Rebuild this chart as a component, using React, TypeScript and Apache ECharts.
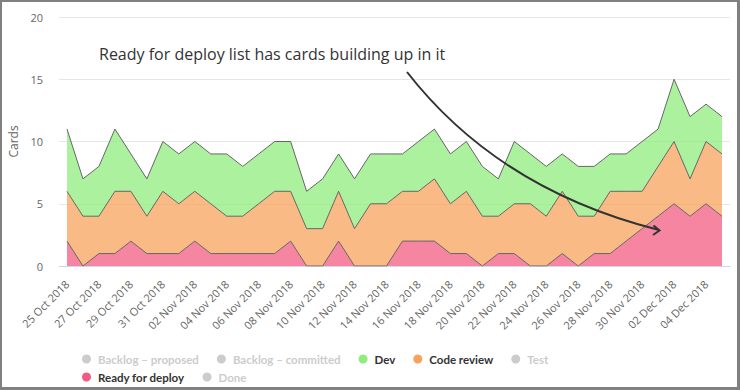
import React, { useEffect, useRef } from "react";
import * as echarts from "echarts";

const dates = [
  "25 Oct 2018", "26 Oct 2018", "27 Oct 2018", "28 Oct 2018", "29 Oct 2018", "30 Oct 2018", "31 Oct 2018",
  "01 Nov 2018", "02 Nov 2018", "03 Nov 2018", "04 Nov 2018", "05 Nov 2018", "06 Nov 2018", "07 Nov 2018",
  "08 Nov 2018", "09 Nov 2018", "10 Nov 2018", "11 Nov 2018", "12 Nov 2018", "13 Nov 2018", "14 Nov 2018",
  "15 Nov 2018", "16 Nov 2018", "17 Nov 2018", "18 Nov 2018", "19 Nov 2018", "20 Nov 2018", "21 Nov 2018",
  "22 Nov 2018", "23 Nov 2018", "24 Nov 2018", "25 Nov 2018", "26 Nov 2018", "27 Nov 2018", "28 Nov 2018",
  "29 Nov 2018", "30 Nov 2018", "01 Dec 2018", "02 Dec 2018", "03 Dec 2018", "04 Dec 2018", "05 Dec 2018",
];

const readyForDeploy = [2, 0, 1, 1, 2, 1, 1, 1, 2, 1, 1, 1, 1, 1, 2, 0, 0, 2, 0, 0, 0, 2, 2, 2, 1, 1, 0, 1, 1, 0, 0, 1, 0, 1, 1, 2, 3, 4, 5, 4, 5, 4];
const codeReview = [4, 4, 3, 5, 4, 3, 5, 4, 4, 4, 3, 3, 4, 5, 4, 3, 3, 4, 3, 5, 5, 4, 4, 5, 4, 5, 4, 3, 4, 5, 4, 5, 4, 3, 5, 4, 3, 4, 5, 3, 5, 5];
const dev = [5, 3, 4, 5, 3, 3, 4, 4, 4, 4, 5, 4, 4, 4, 4, 3, 4, 3, 4, 4, 4, 3, 4, 4, 4, 4, 4, 3, 5, 4, 4, 3, 4, 4, 3, 3, 4, 3, 5, 5, 3, 3];
const emptySeries: number[] = [];

const legendRow1 = ["Backlog – proposed", "Backlog – committed", "Dev", "Code review", "Test"];
const legendRow2 = ["Ready for deploy", "Done"];

const annotation = "Ready for deploy list has cards building up in it";

const selected = {
  "Backlog – proposed": false,
  "Backlog – committed": false,
  Test: false,
  Done: false,
};

const FONT = '"Open Sans", sans-serif';

function areaSeries(name: string, data: number[], color: string) {
  return {
    name,
    type: "line",
    stack: "cards",
    data,
    color,
    showSymbol: false,
    symbol: "circle",
    lineStyle: { color: "#666666", width: 1 },
    areaStyle: { color, opacity: 0.75 },
    emphasis: { disabled: true },
  };
}

export default function App() {
  const ref = useRef<HTMLDivElement>(null);

  useEffect(() => {
    document.body.style.margin = "0";
    const chart = echarts.init(ref.current!, null, { renderer: "svg" });
    const legendCommon = {
      orient: "horizontal",
      icon: "circle",
      itemWidth: 13,
      itemHeight: 9,
      itemGap: 18,
      left: 77,
      selected,
      inactiveColor: "#cccccc",
      textStyle: { color: "#333333", fontSize: 11.5, fontWeight: "bold", fontFamily: "Lato, sans-serif" },
    };
    chart.setOption({
      animation: false,
      backgroundColor: "#ffffff",
      textStyle: { fontFamily: FONT },
      grid: { left: 59, right: 10, top: 17, bottom: 124, containLabel: false, outerBoundsMode: "none" },
      legend: [
        { ...legendCommon, top: 348, data: legendRow1 },
        { ...legendCommon, top: 366, data: legendRow2 },
      ],
      xAxis: {
        type: "category",
        data: dates,
        boundaryGap: true,
        axisLine: { lineStyle: { color: "#ccd6eb" } },
        axisTick: { alignWithLabel: true, interval: 1, length: 10, lineStyle: { color: "#ccd6eb" } },
        axisLabel: { interval: 1, rotate: 45, margin: 16, color: "#666666", fontSize: 11, fontFamily: FONT },
        splitLine: { show: false },
      },
      yAxis: {
        type: "value",
        min: 0,
        max: 20,
        interval: 5,
        name: "Cards",
        nameLocation: "middle",
        nameGap: 39,
        nameTextStyle: { color: "#666666", fontSize: 12, fontFamily: FONT },
        axisLine: { show: false },
        axisTick: { show: false },
        axisLabel: { color: "#666666", fontSize: 11, margin: 16, fontFamily: FONT },
        splitLine: { lineStyle: { color: "#e6e6e6" } },
      },
      series: [
        areaSeries("Done", emptySeries, "#8085e9"),
        areaSeries("Ready for deploy", readyForDeploy, "#f15c80"),
        areaSeries("Test", emptySeries, "#8085e9"),
        areaSeries("Code review", codeReview, "#f7a35c"),
        areaSeries("Dev", dev, "#90ed7d"),
        areaSeries("Backlog – committed", emptySeries, "#434348"),
        areaSeries("Backlog – proposed", emptySeries, "#7cb5ec"),
      ],
      graphic: [
        {
          type: "text",
          left: 99,
          top: 46,
          style: { text: annotation, font: '16px "Open Sans", sans-serif', fill: "#333333" },
          z: 100,
        },
        {
          type: "bezierCurve",
          shape: { x1: 407, y1: 72, x2: 659, y2: 230, cpx1: 460, cpy1: 140, cpx2: 540, cpy2: 200 },
          style: { stroke: "#333333", lineWidth: 2, fill: null },
          z: 100,
        },
        {
          type: "polyline",
          shape: { points: [[653.5, 225.5], [659.5, 230.5], [653, 235]] },
          style: { stroke: "#333333", lineWidth: 2, fill: null },
          z: 100,
        },
      ],
    });
    return () => chart.dispose();
  }, []);

  return (
    <div style={{ position: "fixed", left: 0, top: 0, width: 740, height: 390 }}>
      <div ref={ref} style={{ position: "absolute", left: 0, top: 0, width: 740, height: 390 }} />
      <div
        style={{
          position: "absolute",
          left: 0,
          top: 0,
          width: 740,
          height: 390,
          boxSizing: "border-box",
          borderTop: "2px solid #808080",
          borderLeft: "2px solid #808080",
          borderRight: "3px solid #808080",
          borderBottom: "3px solid #808080",
          pointerEvents: "none",
        }}
      />
    </div>
  );
}
